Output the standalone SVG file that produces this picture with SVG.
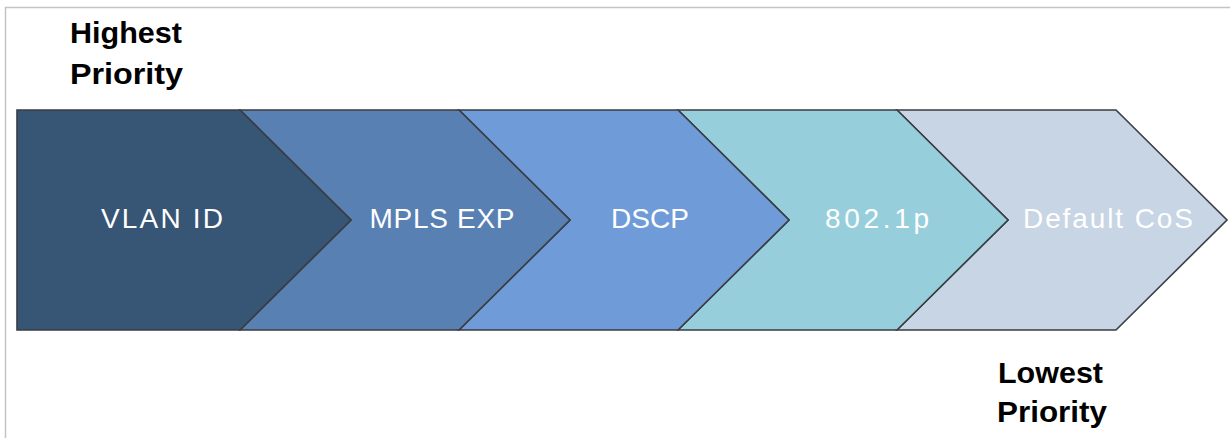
<svg xmlns="http://www.w3.org/2000/svg" width="1230" height="438" viewBox="0 0 1230 438">
<style>
.chev{stroke:#3a3d42;stroke-width:1.6;stroke-linejoin:miter}
.lbl{font-family:"Liberation Sans",Arial,sans-serif;font-size:28px;fill:#ffffff;text-anchor:middle}
.pri{font-family:"Liberation Sans",Arial,sans-serif;font-size:30px;font-weight:bold;fill:#000000}
</style>
<rect x="0" y="0" width="1230" height="438" fill="#ffffff"/>
<path d="M5.5,438 V7.5 H1230" fill="none" stroke="#c4c4c4" stroke-width="1.5"/>
<g id="default-cos">
<polygon class="chev" fill="#c8d5e5" points="897,110 1116,110 1227,220 1116,330 897,330 1008,220"/>
<text class="lbl" x="1108" y="228" textLength="170" lengthAdjust="spacing">Default CoS</text>
</g>
<g id="dot1p">
<polygon class="chev" fill="#96cedc" points="678,110 897,110 1008,220 897,330 678,330 789,220"/>
<text class="lbl" x="877" y="228" textLength="104" lengthAdjust="spacing">802.1p</text>
</g>
<g id="dscp">
<polygon class="chev" fill="#6f9bd8" points="459,110 678,110 789,220 678,330 459,330 570,220"/>
<text class="lbl" x="650" y="228">DSCP</text>
</g>
<g id="mpls-exp">
<polygon class="chev" fill="#5880b2" points="240,110 459,110 570,220 459,330 240,330 351,220"/>
<text class="lbl" x="442" y="228" textLength="145" lengthAdjust="spacing">MPLS EXP</text>
</g>
<g id="vlan-id">
<polygon class="chev" fill="#375575" points="17,110 240,110 351,220 240,330 17,330"/>
<text class="lbl" x="162" y="228" textLength="122" lengthAdjust="spacing">VLAN ID</text>
</g>
<g id="connectors"></g>
<g id="highest-priority">
<text class="pri" x="70" y="43" textLength="112" lengthAdjust="spacingAndGlyphs">Highest</text>
<text class="pri" x="70" y="84" textLength="113" lengthAdjust="spacingAndGlyphs">Priority</text>
</g>
<g id="lowest-priority">
<text class="pri" x="998" y="383" textLength="105" lengthAdjust="spacingAndGlyphs">Lowest</text>
<text class="pri" x="997" y="422" textLength="110" lengthAdjust="spacingAndGlyphs">Priority</text>
</g>
</svg>
